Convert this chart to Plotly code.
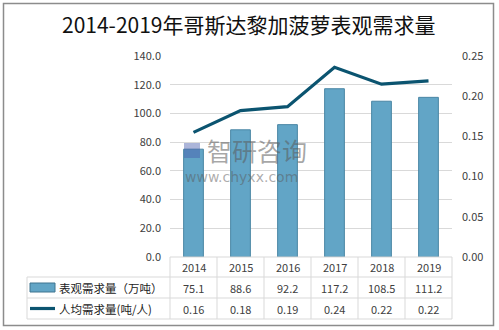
import plotly.graph_objects as go

years = ["2014", "2015", "2016", "2017", "2018", "2019"]
demand = [75.1, 88.6, 92.2, 117.2, 108.5, 111.2]
per_capita = [0.155, 0.182, 0.187, 0.236, 0.215, 0.219]
per_capita_labels = ["0.16", "0.18", "0.19", "0.24", "0.22", "0.22"]
series_names = ["表观需求量（万吨）", "人均需求量(吨/人)"]
title = "2014-2019年哥斯达黎加菠萝表观需求量"

L, R, T, B = 170, 452, 56, 257
W, H = 499, 330
pw, ph = R - L, B - T

def px(x):
    return (x - L) / pw

def py(y):
    return (B - y) / ph

FONT = "Noto Sans CJK SC"
TXT = "#404040"
GRID = "#d9d9d9"
BAR = "#62a5c6"
LINE = "#0b5470"

fig = go.Figure()
fig.add_trace(go.Bar(x=years, y=demand, width=0.42, marker=dict(color=BAR, line=dict(color="#4a86a4", width=1)),
                     name=series_names[0], showlegend=False))
fig.add_trace(go.Scatter(x=years, y=per_capita, yaxis="y2", mode="lines", line=dict(color=LINE, width=3.2),
                         name=series_names[1], showlegend=False))

shapes = []
ann = []
# outer frame
shapes.append(dict(type="rect", xref="paper", yref="paper", x0=px(3.5), x1=px(493.5), y0=py(325.5), y1=py(3.5),
                   line=dict(color="#8c8c8c", width=1.5), layer="below"))
# table lines
col_w = pw / len(years)
for r_y, x0 in [(B, L), (277, 27), (298, 27), (319, 27)]:
    shapes.append(dict(type="line", xref="paper", yref="paper", x0=px(x0), x1=px(R), y0=py(r_y), y1=py(r_y),
                       line=dict(color=GRID, width=1)))
for i in range(len(years) + 1):
    xx = L + i * col_w
    shapes.append(dict(type="line", xref="paper", yref="paper", x0=px(xx), x1=px(xx), y0=py(B), y1=py(319),
                       line=dict(color=GRID, width=1)))
shapes.append(dict(type="line", xref="paper", yref="paper", x0=px(27), x1=px(27), y0=py(277), y1=py(319),
                   line=dict(color=GRID, width=1)))
# legend keys
shapes.append(dict(type="rect", xref="paper", yref="paper", x0=px(30), x1=px(55), y0=py(292), y1=py(283),
                   fillcolor=BAR, line=dict(color="#3f7590", width=1)))
shapes.append(dict(type="line", xref="paper", yref="paper", x0=px(30), x1=px(55), y0=py(308.5), y1=py(308.5),
                   line=dict(color=LINE, width=3.2)))

row_y = [267, 287.5, 308.5]
for i, yv in enumerate(years):
    cx = px(L + (i + 0.5) * col_w)
    for r, t in enumerate([yv, f"{demand[i]:.1f}", per_capita_labels[i]]):
        ann.append(dict(x=cx, xref="paper", y=py(row_y[r]), yref="paper", text=t, showarrow=False,
                        xanchor="center", yanchor="middle", font=dict(size=11, color=TXT, family=FONT)))
for k, nm in enumerate(series_names):
    ann.append(dict(x=px(57), xref="paper", y=py(row_y[k + 1]), yref="paper", text=nm, showarrow=False,
                    xanchor="left", yanchor="middle", font=dict(size=11.5, color="#222222", family=FONT)))
# title
ann.append(dict(x=px(249), xref="paper", y=py(24), yref="paper", text=title, showarrow=False,
                xanchor="center", yanchor="middle", font=dict(size=21, color="#111111", family=FONT)))
# watermark
ann.append(dict(x=px(205), xref="paper", y=py(150), yref="paper", text="智研咨询", showarrow=False, xanchor="left",
                yanchor="middle", font=dict(size=25, color="rgba(90,90,90,0.55)", family=FONT)))
ann.append(dict(x=px(183), xref="paper", y=py(177), yref="paper", text="www.chyxx.com", showarrow=False, xanchor="left",
                yanchor="middle", font=dict(size=14, color="rgba(90,90,90,0.5)", family="DejaVu Sans")))
shapes.append(dict(type="rect", xref="paper", yref="paper", x0=px(184), x1=px(200), y0=py(158), y1=py(143),
                   fillcolor="rgba(70,90,170,0.45)", line=dict(width=0)))

fig.update_layout(
    width=W, height=H,
    margin=dict(l=L, r=W - R, t=T, b=H - B),
    paper_bgcolor="white", plot_bgcolor="white",
    xaxis=dict(type="category", range=[-0.5, len(years) - 0.5], showticklabels=False, showgrid=False,
               zeroline=False, showline=False, ticks=""),
    yaxis=dict(range=[0, 140], dtick=20, tickformat=".1f", showgrid=True, gridcolor=GRID, gridwidth=1,
               zeroline=False, showline=False, ticks="", ticklabelstandoff=8,
               tickfont=dict(size=11, color=TXT, family=FONT)),
    yaxis2=dict(range=[0, 0.25], dtick=0.05, tickformat=".2f", overlaying="y", side="right", showgrid=False,
                zeroline=False, showline=False, ticklabelstandoff=9,
                tickfont=dict(size=11, color=TXT, family=FONT)),
    shapes=shapes, annotations=ann, showlegend=False,
)

fig.write_html("out.html")
